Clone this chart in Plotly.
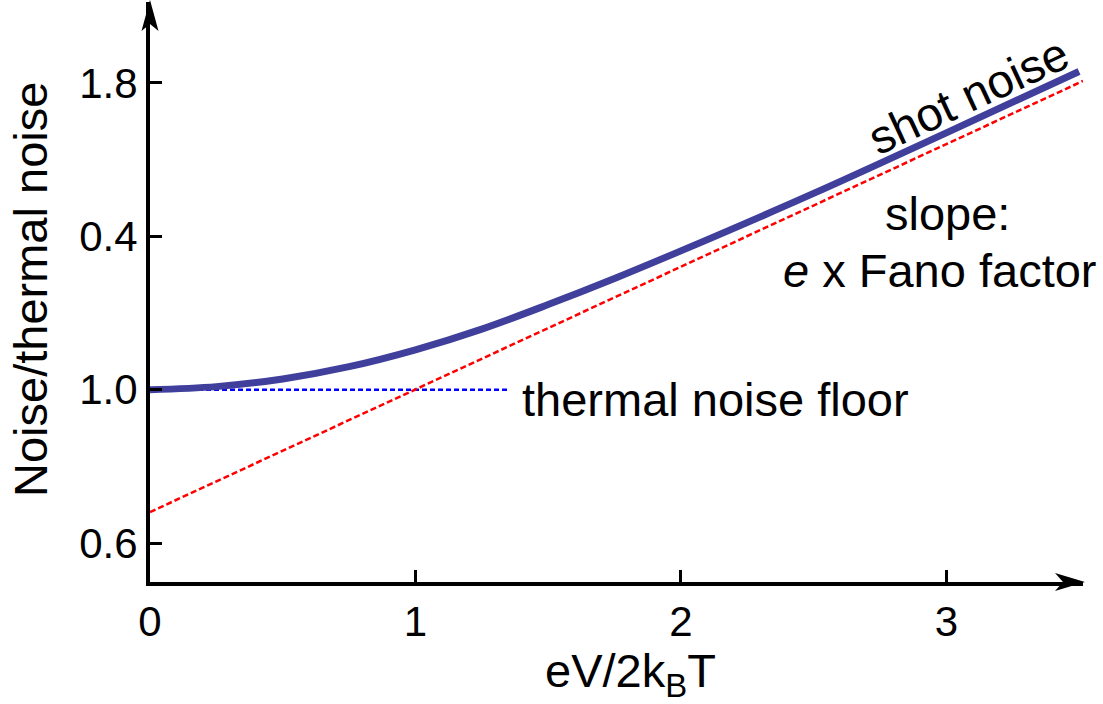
import plotly.graph_objects as go

# Data (y uses an ordinal scale matching the odd tick labels)
curve_x = [0, 0.25, 0.5, 0.75, 1.0, 1.25, 1.5, 1.75, 2.0, 2.5, 3.0, 3.5]
curve_y = [1.0, 1.02, 1.07, 1.15, 1.26, 1.395, 1.555, 1.725, 1.905, 2.28, 2.675, 3.075]
slope_x = [0, 3.515]
slope_y = [0.202, 3.013]
floor_x = [0, 1.356]
floor_y = [1.0, 1.0]
x_ticks = [0, 1, 2, 3]
x_tick_labels = ["0", "1", "2", "3"]
y_ticks = [0, 1, 2, 3]
y_tick_labels = ["0.6", "1.0", "0.4", "1.8"]

FONT = "Liberation Sans, Arial, sans-serif"
W, H = 1103, 704
L, R, T, B = 150, 1083, 2, 582
X_MAX = 3.515
Y_MIN, Y_MAX = -0.254, 3.528

fig = go.Figure()
fig.add_trace(go.Scatter(x=floor_x, y=floor_y, mode="lines",
                         line=dict(color="#0000ff", width=2.5, dash="5px,3px"),
                         hoverinfo="skip"))
fig.add_trace(go.Scatter(x=slope_x, y=slope_y, mode="lines",
                         line=dict(color="#ff0000", width=2.5, dash="6px,3px"),
                         hoverinfo="skip"))
fig.add_trace(go.Scatter(x=curve_x, y=curve_y, mode="lines",
                         line=dict(color="#40409c", width=7, shape="spline", smoothing=1.0),
                         hoverinfo="skip"))

axis_common = dict(showgrid=False, zeroline=False, showline=True, linecolor="black",
                   linewidth=4, ticks="inside", ticklen=12, tickwidth=3, tickcolor="black",
                   tickfont=dict(family=FONT, size=42, color="black"))
fig.update_xaxes(range=[0, X_MAX], tickvals=x_ticks, ticktext=x_tick_labels, **axis_common)
fig.update_yaxes(range=[Y_MIN, Y_MAX], tickvals=y_ticks, ticktext=y_tick_labels, **axis_common)

def pxp(px):
    return (px - L) / (R - L)

def pyp(py):
    return (B - py) / (B - T)

# arrow heads (pixel-sized paths anchored at axis ends, paper-referenced so not clipped)
fig.add_shape(type="path", xref="paper", yref="paper", xsizemode="pixel", ysizemode="pixel",
              xanchor=pxp(1083), yanchor=pyp(582),
              path="M 2,0 L -28,9 L -20,0 L -28,-9 Z", fillcolor="black", line=dict(width=0))
fig.add_shape(type="path", xref="paper", yref="paper", xsizemode="pixel", ysizemode="pixel",
              xanchor=pxp(150), yanchor=pyp(2),
              path="M 0,2 L -8.5,-29 L 0,-22 L 8.5,-29 Z", fillcolor="black", line=dict(width=0))

ann_font = dict(family=FONT, size=47, color="black")
def note(px, py, text, **kw):
    fig.add_annotation(x=pxp(px), y=pyp(py), xref="paper", yref="paper", yanchor="middle",
                       text=text, showarrow=False, font=ann_font, **kw)

note(520, 400, "thermal noise floor", xanchor="left")
note(947, 213, "slope:", xanchor="center")
note(940, 270, "<i>e</i> x Fano factor", xanchor="center")
note(968, 95, "shot noise", xanchor="center", textangle=-25)
note(630, 674, "eV/2k<sub>B</sub>T", xanchor="center")
note(30, 290, "Noise/thermal noise", xanchor="center", textangle=-90)

fig.update_layout(width=W, height=H, showlegend=False,
                  margin=dict(l=L, r=W - R, t=T, b=H - B),
                  paper_bgcolor="white", plot_bgcolor="white")

fig.write_html("out.html")
